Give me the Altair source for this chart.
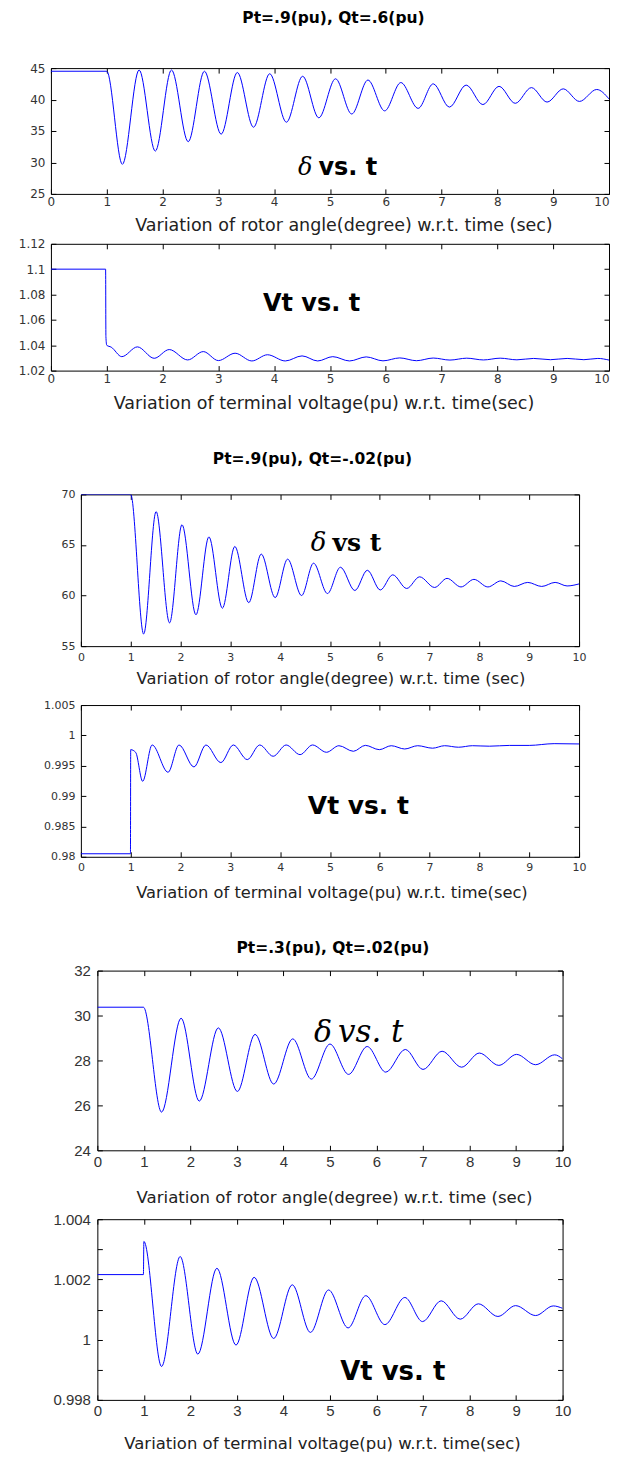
import altair as alt
import pandas as pd

# ---------------- data ----------------
X_TICKS = [0, 1, 2, 3, 4, 5, 6, 7, 8, 9, 10]

# Panel 1: rotor angle, Pt=.9, Qt=.6
T1 = [0, 1.0, 1.28, 1.58, 1.87, 2.16, 2.46, 2.75, 3.05, 3.34, 3.63, 3.92, 4.22, 4.51, 4.8,
      5.1, 5.39, 5.68, 5.98, 6.27, 6.58, 6.85, 7.14, 7.44, 7.74, 8.03, 8.32, 8.61, 8.89,
      9.18, 9.47, 9.78, 10.0]
V1 = [44.5, 44.5, 29.7, 44.7, 31.8, 44.7, 33.3, 44.5, 34.5, 44.3, 35.6, 44.1, 36.4, 43.7, 37.1,
      43.3, 37.7, 43.1, 38.2, 42.7, 38.6, 42.5, 38.8, 42.3, 39.2, 42.1, 39.4, 41.9, 39.6,
      41.7, 39.7, 41.6, 40.1]
Y1_TICKS = [25, 30, 35, 40, 45]

# Panel 2: terminal voltage, Pt=.9, Qt=.6
T2 = [0, 0.98, 0.985, 1.0, 1.08, 1.27, 1.55, 1.85, 2.12, 2.45, 2.73, 3.0, 3.3, 3.6, 3.88, 4.2,
      4.5, 4.78, 5.05, 5.35, 5.65, 5.95, 6.25, 6.55, 6.85, 7.15, 7.45, 7.75, 8.05, 8.35,
      8.65, 8.95, 9.25, 9.55, 9.8, 10.0]
V2 = [1.1, 1.1, 1.047, 1.040, 1.0385, 1.031, 1.0387, 1.0297, 1.0366, 1.0284, 1.035, 1.0279,
      1.0337, 1.0276, 1.0325, 1.0276, 1.0316, 1.0276, 1.031, 1.0276, 1.0308, 1.0277, 1.030,
      1.0278, 1.0299, 1.0283, 1.0298, 1.0284, 1.0298, 1.0285, 1.0296, 1.0286, 1.0296,
      1.0286, 1.0296, 1.0283]
Y2_TICKS = [1.02, 1.04, 1.06, 1.08, 1.1, 1.12]

# Panel 3: rotor angle, Pt=.9, Qt=-.02
T3 = [0, 1.0, 1.26, 1.51, 1.78, 2.03, 2.31, 2.57, 2.84, 3.09, 3.37, 3.62, 3.9, 4.15, 4.43,
      4.67, 4.95, 5.21, 5.5, 5.75, 6.01, 6.26, 6.54, 6.8, 7.1, 7.35, 7.63, 7.89, 8.17, 8.43,
      8.7, 8.97, 9.25, 9.52, 9.76, 10.0]
V3 = [70, 70, 56.2, 68.3, 57.3, 67.0, 58.1, 65.8, 58.75, 64.85, 59.3, 64.1, 59.8, 63.6, 60.0,
      63.2, 60.2, 62.8, 60.5, 62.5, 60.55, 62.05, 60.7, 61.85, 60.8, 61.7, 60.85, 61.6,
      60.85, 61.45, 60.9, 61.3, 60.9, 61.3, 60.95, 61.15]
Y3_TICKS = [55, 60, 65, 70]

# Panel 4: terminal voltage, Pt=.9, Qt=-.02
T4 = [0, 0.995, 1.0, 1.1, 1.24, 1.43, 1.75, 1.97, 2.27, 2.51, 2.81, 3.06, 3.34, 3.59, 3.86,
      4.12, 4.4, 4.65, 4.93, 5.18, 5.47, 5.71, 5.99, 6.23, 6.5, 6.76, 7.06, 7.3, 7.58, 7.86,
      8.2, 8.6, 9.0, 9.5, 10.0]
V4 = [0.9805, 0.9805, 0.99765, 0.9972, 0.99244, 0.99842, 0.99393, 0.99842, 0.9948, 0.99842,
      0.99552, 0.99842, 0.99601, 0.99842, 0.99656, 0.99842, 0.99683, 0.99842, 0.99722,
      0.9983, 0.99738, 0.99836, 0.99765, 0.9983, 0.99776, 0.9983, 0.99789, 0.9983, 0.99805,
      0.9983, 0.99822, 0.99835, 0.99835, 0.99864, 0.99859]
Y4_TICKS = [0.98, 0.985, 0.99, 0.995, 1.0, 1.005]

# Panel 5: rotor angle, Pt=.3, Qt=.02
T5 = [0, 0.99, 1.38, 1.8, 2.19, 2.6, 3.01, 3.39, 3.79, 4.2, 4.6, 5.0, 5.4, 5.8, 6.2, 6.62,
      7.0, 7.41, 7.83, 8.21, 8.63, 9.01, 9.42, 9.83, 10.0]
V5 = [30.37, 30.37, 25.7, 29.88, 26.19, 29.45, 26.62, 29.16, 26.95, 28.96, 27.17, 28.73,
      27.38, 28.62, 27.48, 28.49, 27.6, 28.41, 27.7, 28.33, 27.78, 28.27, 27.81, 28.25, 28.07]
Y5_TICKS = [24, 26, 28, 30, 32]

# Panel 6: terminal voltage, Pt=.3, Qt=.02
T6 = [0, 0.99, 1.0, 1.38, 1.78, 2.16, 2.57, 2.98, 3.37, 3.79, 4.19, 4.58, 4.97, 5.39, 5.77,
      6.18, 6.61, 6.99, 7.39, 7.8, 8.19, 8.61, 8.99, 9.42, 9.8, 10.0]
V6 = [1.00216, 1.00216, 1.00326, 0.99911, 1.00276, 0.99952, 1.00237, 0.99982, 1.00207,
      1.00004, 1.00182, 1.00024, 1.00165, 1.00039, 1.00146, 1.0005, 1.0014, 1.0006,
      1.00129, 1.00068, 1.00119, 1.00077, 1.00113, 1.0008, 1.00112, 1.00104]
Y6_TICKS = [0.998, 1.0, 1.002, 1.004]

TITLES = ["Pt=.9(pu),  Qt=.6(pu)", "Pt=.9(pu), Qt=-.02(pu)", "Pt=.3(pu),  Qt=.02(pu)"]
XLAB_DELTA = "Variation of rotor angle(degree) w.r.t. time (sec)"
XLAB_VT = "Variation of terminal voltage(pu) w.r.t. time(sec)"

# annotation anchors (data units) and texts
ANN_T = [4.74, 4.67, 4.99, 5.57, 5.11, 6.35]
ANN_V = [29.13, 1.0728, 65.16, 0.98839, 29.24, 0.99893]
ANN_DELTA = "δ"
ANN_VS = ["vs. t", "Vt vs. t", "vs t", "Vt vs. t", "vs. t", "Vt vs. t"]

LINE_COLOR = "#0000ff"
W12, W34, W56 = 559, 499, 466
LAST_RIGHT = {"condition": {"test": "datum.value >= 10", "value": "right"}, "value": "center"}


def tick_axis(orient, offset):
    return alt.Axis(orient=orient, offset=offset, labels=False, ticks=True, tickSize=5,
                    tickColor="black", tickWidth=1, domain=False, grid=False, title=None,
                    minExtent=0, maxExtent=5)


def panel(T, V, ydom, yticks, yfmt, W, H, xtitle, st, ann_idx, ann_parts):
    df = pd.DataFrame({"t": T, "v": V})
    xs = alt.Scale(domain=[0, 10], nice=False)
    ys = alt.Scale(domain=ydom, nice=False, zero=False)
    base = alt.Chart(df)
    xaxis_kw = dict(
        orient="bottom", values=X_TICKS, ticks=False, tickSize=0, domain=False, grid=False,
        labelFlush=False, labelFont=st["lf"], labelFontSize=st["ls"], labelColor="#333333",
        labelPadding=st["xpad"], title=xtitle, titleFont="DejaVu Sans",
        titleFontSize=st["ts"], titleFontWeight="normal", titleColor="#222222",
        titleBaseline="middle", titleX=W / 2 + st["tdx"], titleY=st["ty"])
    if st.get("last_right"):
        xaxis_kw["labelAlign"] = LAST_RIGHT
    main = base.mark_line(color=LINE_COLOR, strokeWidth=1, interpolate="monotone", clip=True).encode(
        x=alt.X("t:Q", scale=xs, axis=alt.Axis(**xaxis_kw)),
        y=alt.Y("v:Q", scale=ys, axis=alt.Axis(
            orient="left", values=yticks, format=yfmt, ticks=False, tickSize=0, domain=False,
            grid=False, labelFont=st["lf"], labelFontSize=st["ls"], labelColor="#333333",
            labelPadding=st["ypad"], title=None, minExtent=0)),
    )
    tk1 = base.mark_line(opacity=0).encode(
        x=alt.X("t:Q", scale=xs, axis=tick_axis("top", -H)),
        y=alt.Y("v:Q", scale=ys, axis=tick_axis("right", -W)),
    )
    tk2 = base.mark_line(opacity=0).encode(
        x=alt.X("t:Q", scale=xs, axis=tick_axis("bottom", -H)),
        y=alt.Y("v:Q", scale=ys, axis=tick_axis("left", -W)),
    )
    layers = [main, tk1, tk2]
    for part in ann_parts:
        adf = pd.DataFrame({"t": [ANN_T[ann_idx]], "v": [ANN_V[ann_idx]], "label": [part["text"]]})
        layers.append(
            alt.Chart(adf).mark_text(
                font=part["font"], fontSize=part["size"], fontWeight=part["weight"],
                fontStyle=part["style"], align=part["align"], baseline="middle",
                dx=part["dx"], color="black").encode(
                x=alt.X("t:Q", scale=xs, axis=None),
                y=alt.Y("v:Q", scale=ys, axis=None),
                text="label:N")
        )
    return alt.layer(*layers).resolve_axis(x="independent", y="independent").properties(
        width=W, height=H)


def spacer(h, W=10, title=None, dist=0, dx=0):
    if title is None:
        ch = alt.Chart(pd.DataFrame({"t": [0]})).mark_point(opacity=0).encode(
            x=alt.X("t:Q", axis=None), y=alt.Y("t:Q", axis=None))
    else:
        ch = alt.Chart(pd.DataFrame({"label": [title]})).mark_text(
            font="DejaVu Sans", fontSize=15.5, fontWeight="bold", color="black",
            align="center", baseline="middle").encode(
            text="label:N", x=alt.value(W / 2 + dx), y=alt.value(h - dist))
    return ch.properties(width=W, height=h, view=alt.ViewBackground(stroke="transparent"))


S12 = dict(lf="DejaVu Sans", ls=12, xpad=3, ypad=6, last_right=True)
S34 = dict(lf="DejaVu Sans", ls=11, xpad=5, ypad=6)
S56 = dict(lf="Liberation Sans Narrow, Liberation Sans", ls=15, xpad=4, ypad=7)


def sans_bold(text, size, align="center", dx=0):
    return dict(text=text, font="DejaVu Sans", size=size, weight="bold", style="normal",
                align=align, dx=dx)


p1 = panel(T1, V1, [25, 45], Y1_TICKS, "d", W12, 126, XLAB_DELTA,
           dict(S12, ts=17.5, ty=32, tdx=13.5), 0,
           [dict(text=ANN_DELTA, font="DejaVu Serif", size=24, weight="normal", style="italic",
                 align="right", dx=-3),
            sans_bold(ANN_VS[0], 24, "left", 3)])
p2 = panel(T2, V2, [1.02, 1.12], Y2_TICKS, ".3~g", W12, 127, XLAB_VT,
           dict(S12, ts=17.5, ty=33, tdx=-6.5), 1, [sans_bold(ANN_VS[1], 24)])
p3 = panel(T3, V3, [55, 70], Y3_TICKS, "d", W34, 152, XLAB_DELTA,
           dict(S34, ts=16.3, ty=32, tdx=0.5), 2,
           [dict(text=ANN_DELTA, font="DejaVu Serif", size=26, weight="normal", style="italic",
                 align="right", dx=-3),
            dict(text=ANN_VS[2], font="DejaVu Serif", size=25, weight="bold", style="normal",
                 align="left", dx=3)])
p4 = panel(T4, V4, [0.98, 1.005], Y4_TICKS, ".4~g", W34, 152, XLAB_VT,
           dict(S34, ts=16.3, ty=36, tdx=1.5), 3, [sans_bold(ANN_VS[3], 25)])
p5 = panel(T5, V5, [24, 32], Y5_TICKS, "d", W56, 180, XLAB_DELTA,
           dict(S56, ts=16.6, ty=47, tdx=4), 4,
           [dict(text=ANN_DELTA, font="DejaVu Serif", size=30, weight="normal", style="italic",
                 align="right", dx=-3),
            dict(text=ANN_VS[4], font="DejaVu Serif", size=31, weight="normal", style="italic",
                 align="left", dx=3)])
p6 = panel(T6, V6, [0.998, 1.004], Y6_TICKS, ".4~g", W56, 181, XLAB_VT,
           dict(S56, ts=16.5, ty=44, tdx=-8), 5, [sans_bold(ANN_VS[5], 26)])

chart = alt.vconcat(
    spacer(58, W12, TITLES[0], 50, 3.5), p1, spacer(50), p2,
    spacer(124, W34, TITLES[1], 35, -17.5), p3, spacer(59), p4,
    spacer(114, W56, TITLES[2], 23, 3), p5, spacer(69), p6,
    spacing=0, bounds="flush", center=True,
).properties(
    padding={"left": 9, "top": 0, "right": 0, "bottom": 0},
    background="white",
).configure_view(stroke="black", strokeWidth=1)

chart.save("out.html", embed_options={"renderer": "svg", "actions": False})
